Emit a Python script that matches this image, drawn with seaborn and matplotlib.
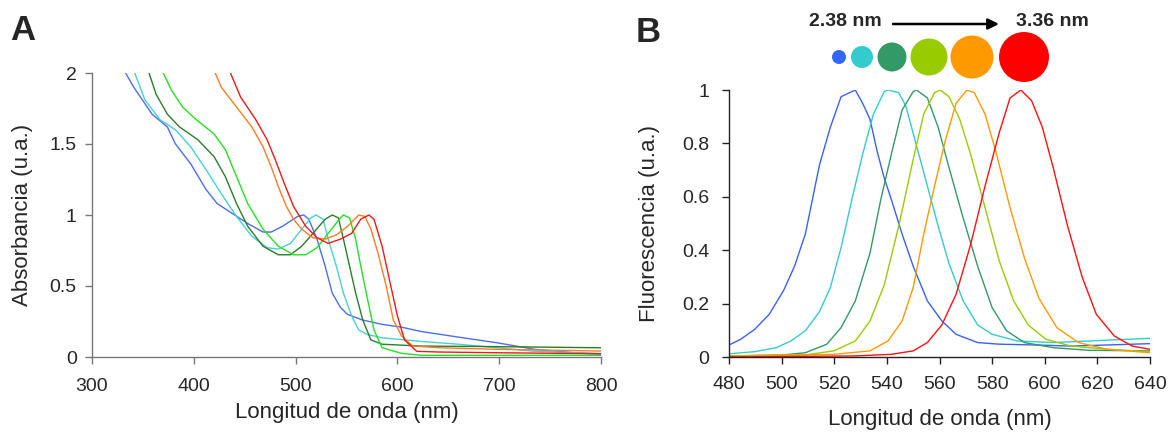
import matplotlib
matplotlib.use("Agg")
import matplotlib.pyplot as plt
import pandas as pd
import seaborn as sns
from matplotlib.patches import Circle, FancyArrowPatch
from matplotlib.ticker import FuncFormatter

# ── Panel A: absorbance spectra (wavelength nm, absorbance) ─────────────
abs_blue_x = [333, 341, 359, 374, 382, 397, 412, 423, 438, 453, 468, 476, 487, 502, 508, 513, 521, 529, 536, 544, 551, 566, 585, 604, 623, 660, 698, 735, 773, 800]
abs_blue_y = [2.0, 1.90, 1.71, 1.62, 1.50, 1.36, 1.18, 1.08, 1.01, 0.94, 0.88, 0.88, 0.92, 0.99, 1.0, 0.97, 0.83, 0.64, 0.45, 0.35, 0.30, 0.26, 0.23, 0.21, 0.18, 0.14, 0.10, 0.054, 0.03, 0.02]
abs_cyan_x = [342, 352, 367, 382, 397, 412, 427, 442, 457, 472, 483, 495, 506, 515, 520, 527, 532, 540, 547, 555, 562, 570, 585, 623, 660, 698, 735, 800]
abs_cyan_y = [2.0, 1.81, 1.67, 1.60, 1.48, 1.32, 1.15, 0.99, 0.85, 0.77, 0.76, 0.80, 0.90, 0.98, 1.0, 0.97, 0.83, 0.64, 0.45, 0.29, 0.19, 0.16, 0.135, 0.11, 0.09, 0.065, 0.04, 0.025]
abs_dkgreen_x = [356, 363, 374, 386, 404, 420, 431, 442, 453, 468, 483, 495, 506, 517, 529, 536, 542, 547, 553, 559, 566, 574, 585, 623, 698, 800]
abs_dkgreen_y = [2.0, 1.85, 1.71, 1.62, 1.53, 1.41, 1.27, 1.08, 0.92, 0.78, 0.72, 0.72, 0.78, 0.87, 0.97, 1.0, 0.98, 0.83, 0.64, 0.45, 0.26, 0.12, 0.09, 0.077, 0.073, 0.065]
abs_green_x = [370, 378, 389, 401, 420, 431, 442, 453, 468, 483, 498, 510, 521, 532, 544, 547, 553, 559, 564, 570, 577, 585, 604, 623, 698, 800]
abs_green_y = [2.0, 1.88, 1.76, 1.68, 1.57, 1.46, 1.27, 1.08, 0.90, 0.78, 0.72, 0.72, 0.77, 0.87, 0.98, 1.0, 0.98, 0.83, 0.64, 0.43, 0.19, 0.065, 0.026, 0.012, 0.012, 0.012]
abs_orange_x = [421, 427, 442, 457, 468, 476, 483, 491, 498, 506, 517, 529, 540, 551, 562, 568, 574, 581, 589, 596, 604, 615, 641, 698, 800]
abs_orange_y = [2.0, 1.90, 1.76, 1.62, 1.48, 1.34, 1.20, 1.06, 0.97, 0.90, 0.84, 0.83, 0.86, 0.92, 1.0, 0.99, 0.90, 0.73, 0.50, 0.26, 0.15, 0.077, 0.065, 0.054, 0.042]
abs_red_x = [436, 446, 461, 472, 480, 489, 498, 510, 521, 532, 544, 555, 564, 572, 577, 585, 592, 600, 607, 619, 641, 698, 800]
abs_red_y = [2.0, 1.83, 1.67, 1.53, 1.39, 1.22, 1.06, 0.92, 0.84, 0.80, 0.83, 0.87, 0.97, 1.0, 0.97, 0.78, 0.55, 0.29, 0.12, 0.04, 0.035, 0.03, 0.023]

# ── Panel B: normalised fluorescence spectra ───────────────────────────
fl_blue_x = [480, 484.4, 489.8, 495.3, 500.8, 504.9, 509, 511.7, 514.4, 518.5, 522.6, 526.7, 528, 530.8, 533.6, 536.3, 539, 541.7, 545.8, 550, 555.4, 560.9, 566.3, 574.5, 582.7, 596.4, 610, 623.7, 640]
fl_blue_y = [0.045, 0.066, 0.104, 0.16, 0.25, 0.34, 0.46, 0.59, 0.72, 0.86, 0.975, 0.994, 1.0, 0.95, 0.89, 0.77, 0.67, 0.59, 0.46, 0.34, 0.21, 0.135, 0.085, 0.054, 0.048, 0.045, 0.041, 0.045, 0.05]
fl_cyan_x = [480, 489.8, 498, 503.5, 509, 514.4, 518.5, 522.6, 526.7, 530.8, 534.9, 539, 540.4, 544.5, 547.2, 551.3, 555.4, 559.5, 563.6, 569, 574.5, 580, 589.6, 603.2, 616.9, 630.5, 640]
fl_cyan_y = [0.012, 0.02, 0.035, 0.06, 0.098, 0.17, 0.26, 0.41, 0.59, 0.76, 0.91, 0.994, 1.0, 0.99, 0.94, 0.79, 0.64, 0.49, 0.35, 0.21, 0.12, 0.085, 0.06, 0.054, 0.06, 0.066, 0.07]
fl_dkgreen_x = [480, 500.8, 509, 517.2, 522.6, 528, 533.6, 537.7, 541.7, 545.8, 550, 551.3, 555.4, 559.5, 563.6, 569, 574.5, 580, 585.5, 592.3, 603.2, 616.9, 640]
fl_dkgreen_y = [0.004, 0.008, 0.016, 0.048, 0.11, 0.21, 0.39, 0.59, 0.76, 0.925, 0.994, 1.0, 0.97, 0.86, 0.71, 0.52, 0.34, 0.185, 0.098, 0.054, 0.035, 0.025, 0.023]
fl_lime_x = [480, 509, 519.9, 528, 533.6, 539, 544.5, 550, 554, 558.1, 560.2, 563.6, 567.7, 571.8, 577.3, 582.7, 588.2, 593.7, 600.5, 610, 623.7, 640]
fl_lime_y = [0.0025, 0.008, 0.023, 0.06, 0.135, 0.27, 0.49, 0.74, 0.91, 0.99, 1.0, 0.975, 0.89, 0.76, 0.56, 0.36, 0.21, 0.12, 0.066, 0.041, 0.029, 0.02]
fl_orange_x = [480, 519.9, 533.6, 540.4, 545.8, 550, 554, 558.1, 562.2, 566.3, 570.4, 573.2, 577.3, 581.4, 586.8, 592.3, 597.8, 604.6, 612.8, 623.7, 640]
fl_orange_y = [0.004, 0.01, 0.023, 0.06, 0.135, 0.26, 0.46, 0.64, 0.81, 0.95, 1.0, 0.99, 0.91, 0.77, 0.56, 0.37, 0.22, 0.11, 0.054, 0.029, 0.016]
fl_red_x = [480, 528, 541.7, 550, 555.4, 560.9, 566.3, 571.8, 577.3, 582.7, 586.8, 590.9, 595, 599.1, 603.2, 608.7, 614.2, 619.6, 626.4, 633.2, 640]
fl_red_y = [0.0, 0.004, 0.01, 0.023, 0.054, 0.12, 0.235, 0.42, 0.64, 0.84, 0.97, 1.0, 0.96, 0.86, 0.71, 0.49, 0.30, 0.16, 0.079, 0.041, 0.029]

sizes_nm = ["2.38 nm", "3.36 nm"]

abs_names = ["blue", "cyan", "dkgreen", "green", "orange", "red"]
abs_colors = ["#4a6ef0", "#48d0d0", "#2a7d2a", "#22e022", "#ff7a26", "#f01818"]
fl_names = ["blue", "cyan", "dkgreen", "lime", "orange", "red"]
fl_colors = ["#3a62f0", "#33cccc", "#339966", "#99cc00", "#ff9900", "#ff1010"]
dot_colors = ["#3366ff", "#33cccc", "#339966", "#99cc00", "#ff9900", "#ff0000"]
dot_radii = [7, 11, 14.5, 18.5, 21.5, 25]
dot_centres = [839, 862, 892, 929, 972, 1024]


def long_frame(names, xs, ys):
    parts = []
    for name, x, y in zip(names, xs, ys):
        parts.append(pd.DataFrame({"wl": x, "val": y, "curve": name}))
    return pd.concat(parts, ignore_index=True)


abs_df = long_frame(abs_names,
                    [abs_blue_x, abs_cyan_x, abs_dkgreen_x, abs_green_x, abs_orange_x, abs_red_x],
                    [abs_blue_y, abs_cyan_y, abs_dkgreen_y, abs_green_y, abs_orange_y, abs_red_y])
fl_df = long_frame(fl_names,
                   [fl_blue_x, fl_cyan_x, fl_dkgreen_x, fl_lime_x, fl_orange_x, fl_red_x],
                   [fl_blue_y, fl_cyan_y, fl_dkgreen_y, fl_lime_y, fl_orange_y, fl_red_y])

sns.set_theme(style="ticks")
plt.rcParams["font.family"] = ["Liberation Sans", "DejaVu Sans"]

W, H = 1168, 434
fig = plt.figure(figsize=(W / 100, H / 100), dpi=100)
ax_a = fig.add_axes([92 / W, 1 - 357 / H, 509 / W, 284 / H])
ax_b = fig.add_axes([729 / W, 1 - 357 / H, 421 / W, 267 / H])

sns.lineplot(data=abs_df, x="wl", y="val", hue="curve", palette=dict(zip(abs_names, abs_colors)),
             sort=False, estimator=None, linewidth=1.0, legend=False, ax=ax_a)
sns.lineplot(data=fl_df, x="wl", y="val", hue="curve", palette=dict(zip(fl_names, fl_colors)),
             sort=False, estimator=None, linewidth=1.0, legend=False, ax=ax_b)

fmt = FuncFormatter(lambda v, _: f"{v:g}")
ax_a.set_xlim(300, 800)
ax_a.set_ylim(0, 2)
ax_a.set_xticks(range(300, 801, 100))
ax_a.set_yticks([0, 0.5, 1, 1.5, 2])
ax_a.yaxis.set_major_formatter(fmt)
ax_a.set_xlabel("Longitud de onda (nm)", fontsize=16, labelpad=5)
ax_a.set_ylabel("Absorbancia (u.a.)", fontsize=16, labelpad=12)

ax_b.set_xlim(480, 640)
ax_b.set_ylim(0, 1)
ax_b.set_xticks(range(480, 641, 20))
ax_b.set_yticks([0, 0.2, 0.4, 0.6, 0.8, 1])
ax_b.yaxis.set_major_formatter(fmt)
ax_b.set_xlabel("Longitud de onda (nm)", fontsize=16, labelpad=11)
ax_b.set_ylabel("Fluorescencia (u.a.)", fontsize=16, labelpad=16)

for ax, col in ((ax_a, "#777777"), (ax_b, "#222222")):
    sns.despine(ax=ax)
    for side in ("left", "bottom"):
        ax.spines[side].set_color(col)
        ax.spines[side].set_linewidth(1.0)
    ax.tick_params(axis="both", labelsize=14, length=5, width=1.0, color=col, direction="out")
ax_a.tick_params(axis="x", pad=10)
ax_a.tick_params(axis="y", pad=6)
ax_b.tick_params(axis="x", pad=9)
ax_b.tick_params(axis="y", pad=9)

# ── decorations: panel letters, size arrow and dots ────────────────────
over = fig.add_axes([0, 0, 1, 1])
over.set_xlim(0, W)
over.set_ylim(H, 0)
over.axis("off")
over.text(10, 31, "A", fontsize=25, fontweight="bold", va="center", ha="left")
over.text(636, 33, "B", fontsize=25, fontweight="bold", va="center", ha="left")
over.text(845, 22, sizes_nm[0], fontsize=14, fontweight="bold", ha="center", va="center")
over.text(1052, 22, sizes_nm[1], fontsize=14, fontweight="bold", ha="center", va="center")
over.add_patch(FancyArrowPatch((893, 24), (999, 24), arrowstyle="-|>", mutation_scale=16,
                               color="black", linewidth=1.8, shrinkA=0, shrinkB=0))
for cx, r, c in zip(dot_centres, dot_radii, dot_colors):
    over.add_patch(Circle((cx, 57), r, color=c, linewidth=0))

fig.savefig("out.png", dpi=100)
plt.close(fig)
